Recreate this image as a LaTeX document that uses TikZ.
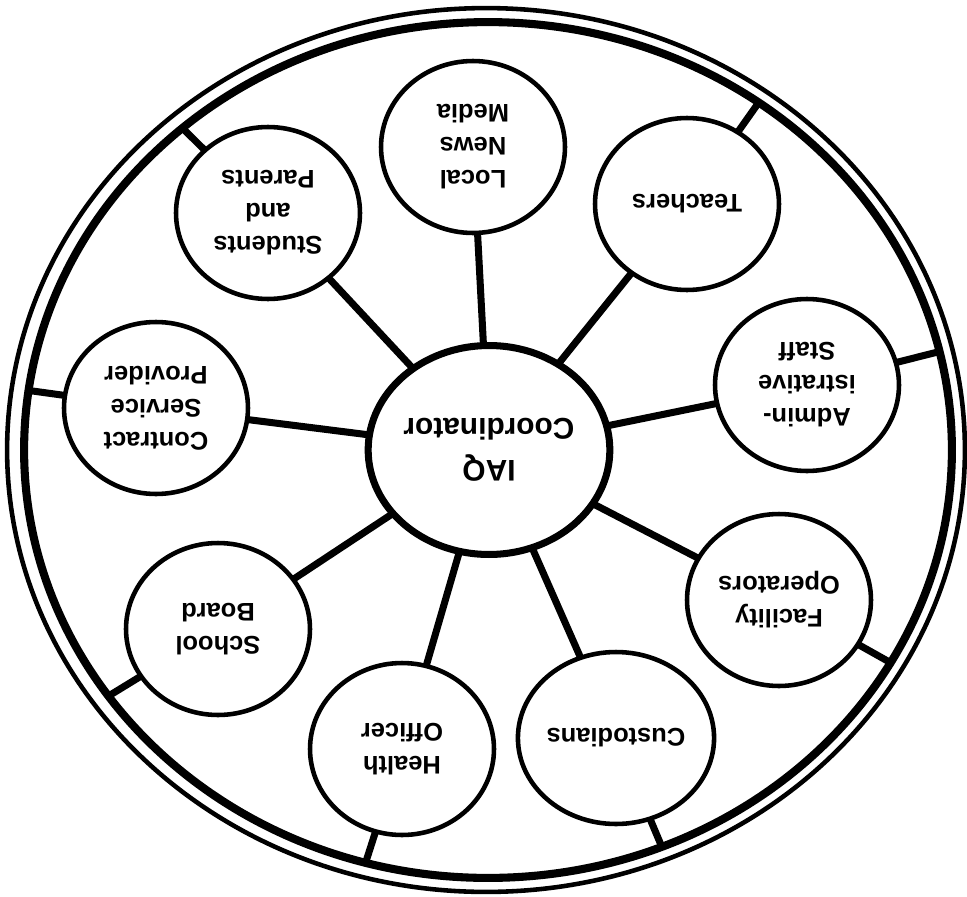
\documentclass[tikz,border=0pt]{standalone}
\usepackage{fontspec}
\setmainfont{Liberation Sans}
\usetikzlibrary{shapes.geometric}
\begin{document}
\begin{tikzpicture}[x=0.02cm,y=-0.02cm,
  member/.style={ellipse, draw, line width=2.6pt, fill=white,
    minimum width=3.68cm, minimum height=3.44cm, inner sep=0pt, outer sep=0pt,
    align=center, rotate=180, font=\bfseries\fontsize{14.5}{18.8}\selectfont},
  hub/.style={ellipse, draw, line width=4pt, fill=white,
    minimum width=4.36cm, minimum height=4.18cm, inner sep=0pt, outer sep=0pt,
    align=center, rotate=180, font=\bfseries\fontsize{17}{24}\selectfont},
  link/.style={line width=4pt},
  spoke/.style={line width=4pt},
  ringin/.style={line width=4.6pt},
  ringout/.style={line width=2.6pt}]
\useasboundingbox (0,0) rectangle (967,896);
% rim
\draw[ringout] (486,450) ellipse [x radius=9.58cm, y radius=8.84cm];
\draw[ringin] (488,450) ellipse [x radius=9.28cm, y radius=8.56cm];
% points on the rim
\coordinate (rStudents) at ({488+464*cos(131.2)},{450-428*sin(131.2)});
\coordinate (rTeachers) at ({488+464*cos(54.3)},{450-428*sin(54.3)});
\coordinate (rAdmin) at ({488+464*cos(13.3)},{450-428*sin(13.3)});
\coordinate (rFacility) at ({488+464*cos(-29.8)},{450-428*sin(-29.8)});
\coordinate (rCustodians) at ({488+464*cos(-68)},{450-428*sin(-68)});
\coordinate (rHealth) at ({488+464*cos(-105.3)},{450-428*sin(-105.3)});
\coordinate (rSchool) at ({488+464*cos(-144.9)},{450-428*sin(-144.9)});
\coordinate (rContract) at ({488+464*cos(172)},{450-428*sin(172)});
% nodes
\node[hub] (iaq) at (489,450) {IAQ\\Coordinator};
\node[member] (news) at (473,147) {Local\\News\\Media};
\node[member] (teachers) at (687,204) {Teachers};
\node[member] (admin) at (807,385) {Admin-\\istrative\\Staff};
\node[member] (facility) at (779,600) {Facility\\Operators};
\node[member] (custodians) at (616,738) {Custodians};
\node[member] (health) at (402,749) {Health\\Officer};
\node[member] (school) at (218,629) {School\\Board};
\node[member] (contract) at (156,408) {Contract\\Service\\Provider};
\node[member] (students) at (268,213) {Students\\and\\Parents};
% links to hub
\foreach \n in {news,teachers,admin,facility,custodians,health,school,contract,students}
  \draw[link] (iaq) -- (\n);
% spokes to rim
\draw[spoke] (students) -- (rStudents);
\draw[spoke] (teachers) -- (rTeachers);
\draw[spoke] (admin) -- (rAdmin);
\draw[spoke] (facility) -- (rFacility);
\draw[spoke] (custodians) -- (rCustodians);
\draw[spoke] (health) -- (rHealth);
\draw[spoke] (school) -- (rSchool);
\draw[spoke] (contract) -- (rContract);
\end{tikzpicture}
\end{document}
